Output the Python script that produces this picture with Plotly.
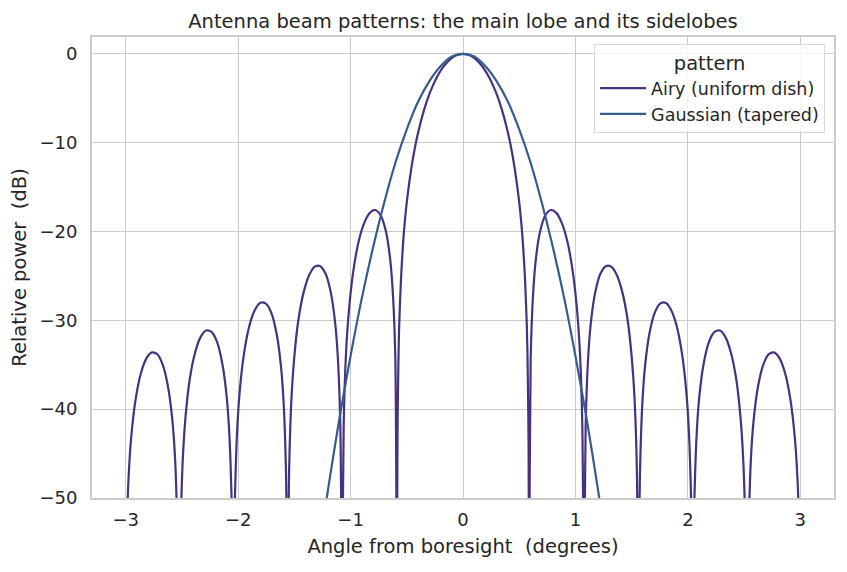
import plotly.graph_objects as go

# ---------------- data ----------------
airy_angle = [
    -3.000, -2.994, -2.975, -2.951, -2.912, -2.864, -2.816, -2.767, -2.719, -2.671, -2.623, -2.584, -2.560, -2.541, -2.526,
    -2.512, -2.492, -2.468, -2.430, -2.381, -2.333, -2.285, -2.237, -2.188, -2.140, -2.101, -2.077, -2.058, -2.044,
    -2.029, -2.010, -1.986, -1.947, -1.899, -1.850, -1.802, -1.754, -1.705, -1.657, -1.618, -1.594, -1.575, -1.560,
    -1.546, -1.527, -1.502, -1.464, -1.415, -1.367, -1.318, -1.270, -1.221, -1.173, -1.134, -1.110, -1.091, -1.076,
    -1.061, -1.042, -1.017, -0.978, -0.930, -0.881, -0.832, -0.783, -0.734, -0.685, -0.646, -0.622, -0.602, -0.588,
    -0.583, -0.575, -0.568, -0.552, -0.537, -0.522, -0.499, -0.460, -0.422, -0.383, -0.345, -0.307, -0.268, -0.230,
    -0.192, -0.153, -0.115, -0.077, -0.038,
    0.000,
    0.038, 0.077, 0.115, 0.153, 0.192, 0.230, 0.268, 0.307, 0.345, 0.383, 0.422, 0.460, 0.499, 0.522, 0.537,
    0.552, 0.568, 0.575, 0.583, 0.588,
    0.602, 0.622, 0.646, 0.685, 0.734, 0.783, 0.832, 0.881, 0.930, 0.978, 1.017, 1.042, 1.061, 1.076,
    1.091, 1.110, 1.134, 1.173, 1.221, 1.270, 1.318, 1.367, 1.415, 1.464, 1.502, 1.527, 1.546, 1.560,
    1.575, 1.594, 1.618, 1.657, 1.705, 1.754, 1.802, 1.850, 1.899, 1.947, 1.986, 2.010, 2.029, 2.044,
    2.058, 2.077, 2.101, 2.140, 2.188, 2.237, 2.285, 2.333, 2.381, 2.430, 2.468, 2.492, 2.512, 2.526,
    2.541, 2.560, 2.584, 2.623, 2.671, 2.719, 2.767, 2.816, 2.864, 2.912, 2.951, 2.975, 2.994, 3.000,
]
airy_db = [
    -59.70, -55.17, -47.78, -43.13, -38.89, -35.90, -34.28, -33.61, -33.82, -34.99, -37.53, -41.40, -45.82, -53.03, -60.0,
    -52.91, -45.51, -40.84, -36.57, -33.53, -31.86, -31.15, -31.31, -32.43, -34.92, -38.74, -43.14, -50.32, -60.0,
    -50.11, -42.68, -37.97, -33.66, -30.55, -28.81, -28.03, -28.12, -29.15, -31.56, -35.31, -39.66, -46.81, -60.0,
    -46.56, -39.09, -34.33, -29.93, -26.71, -24.86, -23.95, -23.90, -24.79, -27.05, -30.67, -34.94, -42.01, -60.0,
    -41.63, -34.09, -29.23, -24.66, -21.22, -19.11, -17.93, -17.58, -18.14, -20.03, -23.32, -27.37, -34.25, -60.0,
    -43.43, -35.01, -30.73, -25.51, -22.10, -19.54, -16.57, -12.91, -10.18, -8.01, -6.25, -4.78, -3.57, -2.57,
    -1.76, -1.11, -0.62, -0.27, -0.07,
    0.00,
    -0.07, -0.27, -0.62, -1.11, -1.76, -2.57, -3.57, -4.78, -6.25, -8.01, -10.18, -12.91, -16.57, -19.54, -22.10,
    -25.51, -30.73, -35.01, -43.43, -60.0,
    -34.25, -27.37, -23.32, -20.03, -18.14, -17.58, -17.93, -19.11, -21.22, -24.66, -29.23, -34.09, -41.63, -60.0,
    -42.01, -34.94, -30.67, -27.05, -24.79, -23.90, -23.95, -24.86, -26.71, -29.93, -34.33, -39.09, -46.56, -60.0,
    -46.81, -39.66, -35.31, -31.56, -29.15, -28.12, -28.03, -28.81, -30.55, -33.66, -37.97, -42.68, -50.11, -60.0,
    -50.32, -43.14, -38.74, -34.92, -32.43, -31.31, -31.15, -31.86, -33.53, -36.57, -40.84, -45.51, -52.91, -60.0,
    -53.03, -45.82, -41.40, -37.53, -34.99, -33.82, -33.61, -34.28, -35.90, -38.89, -43.13, -47.78, -55.17, -59.70,
]

gauss_angle = [-1.4, -1.3, -1.2, -1.1, -1.0, -0.9, -0.8, -0.7, -0.6, -0.5, -0.4, -0.3, -0.2, -0.1, 0.0,
               0.1, 0.2, 0.3, 0.4, 0.5, 0.6, 0.7, 0.8, 0.9, 1.0, 1.1, 1.2, 1.3, 1.4]
gauss_db = [-66.6, -57.5, -49.0, -41.1, -34.0, -27.5, -21.8, -16.7, -12.2, -8.5, -5.4, -3.1, -1.4, -0.3, 0.0,
            -0.3, -1.4, -3.1, -5.4, -8.5, -12.2, -16.7, -21.8, -27.5, -34.0, -41.1, -49.0, -57.5, -66.6]

series_names = ["Airy (uniform dish)", "Gaussian (tapered)"]
series_colors = ["#46327e", "#365c8d"]
x_ticks = [-3, -2, -1, 0, 1, 2, 3]
y_ticks = [0, -10, -20, -30, -40, -50]

# ---------------- figure ----------------
FONT = "DejaVu Sans"
TXT = "#262626"
GRID = "#cccccc"
LBL = 19.5
TCK = 18

fig = go.Figure()
fig.add_trace(go.Scatter(x=airy_angle, y=airy_db, mode="lines", name=series_names[0],
                         line=dict(color=series_colors[0], width=2.2, shape="spline", smoothing=0.8)))
fig.add_trace(go.Scatter(x=gauss_angle, y=gauss_db, mode="lines", name=series_names[1],
                         line=dict(color=series_colors[1], width=2.2, shape="spline", smoothing=0.8)))

fig.update_layout(
    width=847, height=572,
    margin=dict(l=92, r=11, t=37, b=74),
    plot_bgcolor="white", paper_bgcolor="white",
    font=dict(family=FONT, color=TXT, size=TCK),
    title=dict(text="Antenna beam patterns: the main lobe and its sidelobes",
               x=0.5, xref="paper", xanchor="center",
               y=1 - 21 / 572, yref="container", yanchor="middle",
               font=dict(size=LBL, color=TXT, family=FONT)),
    legend=dict(
        title=dict(text="pattern", side="top center", font=dict(size=LBL, color=TXT)),
        x=0.988, xanchor="right", y=0.985, yanchor="top",
        bgcolor="rgba(255,255,255,0.8)", bordercolor="#d9d9d9", borderwidth=1,
        font=dict(size=TCK - 0.5, color=TXT),
        itemwidth=46,
    ),
    showlegend=True,
)
fig.update_xaxes(
    range=[-3.3, 3.3], tickvals=x_ticks, showgrid=True, gridcolor=GRID, gridwidth=1.4,
    zeroline=False, showline=True, linecolor=GRID, linewidth=2, mirror=True,
    ticks="", ticklabelstandoff=4, tickfont=dict(size=TCK, color=TXT),
    title=dict(text="Angle from boresight  (degrees)", font=dict(size=LBL, color=TXT), standoff=11),
)
fig.update_yaxes(
    range=[-50, 1.9], tickvals=y_ticks, showgrid=True, gridcolor=GRID, gridwidth=1.4,
    zeroline=False, showline=True, linecolor=GRID, linewidth=2, mirror=True,
    ticks="", ticklabelstandoff=9, tickfont=dict(size=TCK, color=TXT),
    title=dict(text="Relative power  (dB)", font=dict(size=LBL, color=TXT), standoff=8),
)

fig.write_html("out.html")
